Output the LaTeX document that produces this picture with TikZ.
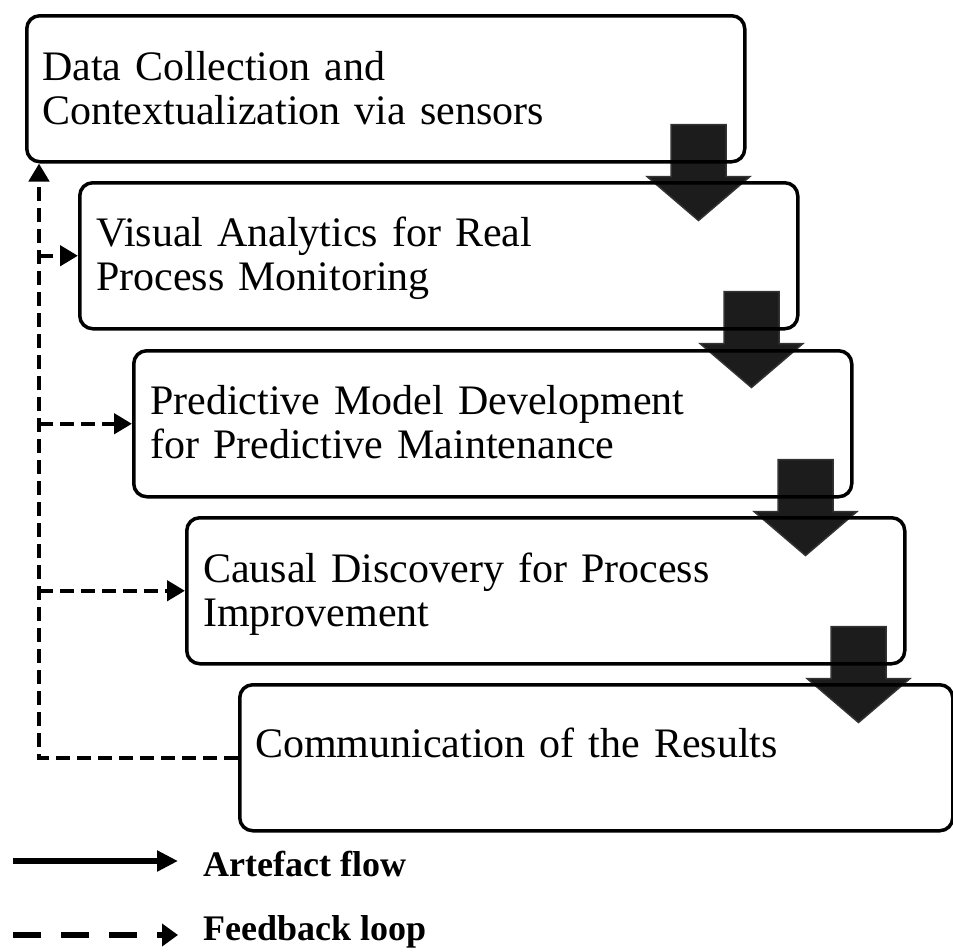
\documentclass[tikz,border=0pt]{standalone}
\usepackage{fontspec}
\setmainfont{Liberation Serif}
\usetikzlibrary{arrows.meta,backgrounds}
\definecolor{blkfill}{HTML}{1C1C1C}
\definecolor{blkline}{HTML}{333333}
\begin{document}
\begin{tikzpicture}[x=1pt,y=-1pt,
  box/.style={draw=black, line width=3.5pt, rounded corners=13pt,
    minimum width=718pt, minimum height=146pt, anchor=north west, inner sep=0pt},
  lbl/.style={font=\fontsize{42}{44}\selectfont, anchor=base west, inner sep=0pt,
    text width=700pt, align=left},
  blkarrow/.style={fill=blkfill, draw=blkline, line width=1.5pt, line join=miter},
  fb/.style={line width=4.5pt, dash pattern=on 14pt off 7pt},
  fbtip/.style={-{Triangle[length=18pt 0 0,width=20pt 0 0]}},
  legtext/.style={font=\fontsize{36}{40}\selectfont\bfseries, anchor=base west, inner sep=0pt}
]
\useasboundingbox (0,0) rectangle (953,951);

% boxes
\node[box] (b1) at (25,14) {};
\node[box] (b2) at (78,181) {};
\node[box] (b3) at (132,349) {};
\node[box] (b4) at (185,516) {};
\node[box, minimum width=713pt] (b5) at (238,683) {};

% texts
\node[lbl] (t1) at ([xshift=17pt,yshift=-66pt]b1.north west) {Data Collection and\\Contextualization via sensors};
\node[lbl] (t2) at ([xshift=18pt,yshift=-65pt]b2.north west) {Visual Analytics for Real\\Process Monitoring};
\node[lbl] (t3) at ([xshift=18pt,yshift=-65pt]b3.north west) {Predictive Model Development\\for Predictive Maintenance};
\node[lbl] (t4) at ([xshift=18pt,yshift=-66pt]b4.north west) {Causal Discovery for Process\\Improvement};
\node[lbl] (t5) at ([xshift=17pt,yshift=-74pt]b5.north west) {Communication of the Results};

% block arrows (artefact flow)
\begin{scope}[on background layer]
\foreach \b in {b1,b2,b3,b4}{
  \begin{scope}[shift={(\b.south east)}]
    \draw[blkarrow] (-75.5,-39) -- (-20.5,-39) -- (-20.5,13) -- (3.5,13) -- (-48,57)
      -- (-99.5,13) -- (-75.5,13) -- cycle;
  \end{scope}
}
\end{scope}

% feedback loop
\coordinate (tx) at (39,0);
\draw[fb, fbtip] (b5.west) -- (tx |- b5.west) -- (tx |- b1.south);
\draw[fb, fbtip] (tx |- b2.west) -- (b2.west);
\draw[fb, fbtip] (tx |- b3.west) -- (b3.west);
\draw[fb, fbtip] (tx |- b4.west) -- (b4.west);

% legend
\coordinate (sa) at (13,861);
\coordinate (sb) at (178,861);
\draw[line width=6.5pt, -{Triangle[length=21pt 0 0,width=20pt 0 0]}] (sa) -- (sb);
\node[legtext] (l1) at (203,876) {Artefact flow};
\coordinate (da) at (13,935);
\coordinate (db) at (178,935);
\draw[line width=6.5pt, dash pattern=on 28pt off 20pt, -{Triangle[length=16pt 0 0,width=22pt 0 0]}] (da) -- (db);
\node[legtext] (l2) at (203,940) {Feedback loop};
\end{tikzpicture}
\end{document}
